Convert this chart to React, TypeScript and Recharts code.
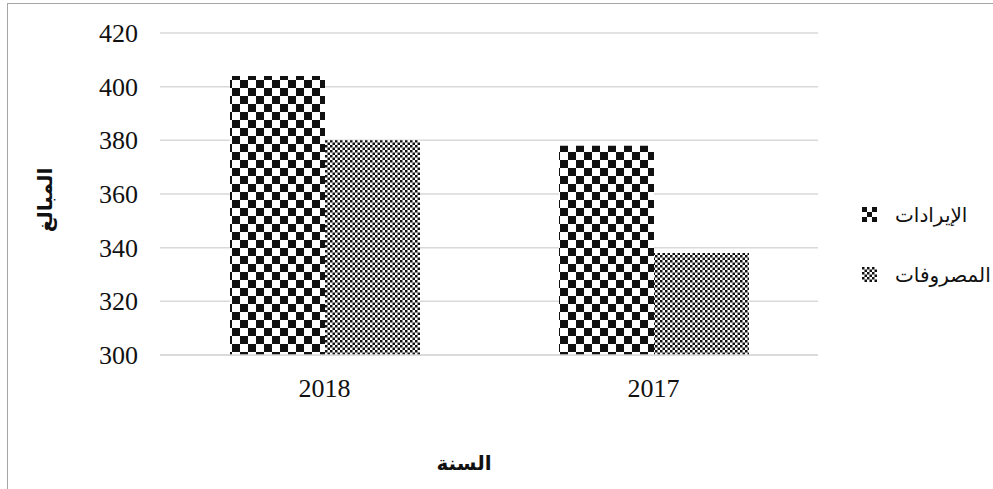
import React from "react";
import { BarChart, Bar, XAxis, YAxis, CartesianGrid, Label } from "recharts";

const years = ["2018", "2017"];
const revenues = [404, 378];
const expenses = [380, 338];
const yTicks = [300, 320, 340, 360, 380, 400, 420];
const seriesNames = { revenues: "الإيرادات", expenses: "المصروفات" };

const data = years.map((y, i) => ({ year: y, revenues: revenues[i], expenses: expenses[i] }));

const FONT = "Liberation Serif";
const AR_FONT = "'Liberation Serif', 'DejaVu Sans', serif";

const Patterns = () => (
  <svg width={0} height={0} style={{ position: "absolute" }}>
    <defs>
      <pattern id="checkBig" width={16} height={16} patternUnits="userSpaceOnUse">
        <rect x={0} y={0} width={16} height={16} fill="#fff" />
        <rect x={0} y={0} width={8} height={8} fill="#111" />
        <rect x={8} y={8} width={8} height={8} fill="#111" />
      </pattern>
      <pattern id="checkSmall" width={5} height={5} patternUnits="userSpaceOnUse">
        <rect x={0} y={0} width={5} height={5} fill="#fff" />
        <rect x={0} y={0} width={2.5} height={2.5} fill="#111" />
        <rect x={2.5} y={2.5} width={2.5} height={2.5} fill="#111" />
      </pattern>
      <pattern id="checkIcon" width={10} height={10} patternUnits="userSpaceOnUse">
        <rect x={0} y={0} width={10} height={10} fill="#fff" />
        <rect x={0} y={0} width={5} height={5} fill="#111" />
        <rect x={5} y={5} width={5} height={5} fill="#111" />
      </pattern>
    </defs>
  </svg>
);

const renderYTick = (props: any) => {
  const { x, y, payload } = props;
  return (
    <g key={`yt-${payload.value}`}>
      <text x={x} y={y} dy={9} textAnchor="end" fontFamily={FONT} fontSize={26} fill="#111" style={{ fontFamily: FONT, fontSize: 26 }}>
        {String(payload.value)}
      </text>
    </g>
  );
};

const renderXTick = (props: any) => {
  const { x, y, payload } = props;
  return (
    <g key={`xt-${payload.value}`}>
      <text x={x} y={y} dy={18} textAnchor="middle" fontFamily={FONT} fontSize={26} fill="#111" style={{ fontFamily: FONT, fontSize: 26 }}>
        {String(payload.value)}
      </text>
    </g>
  );
};

const LegendBox = () => (
  <div style={{ position: "absolute", left: 862, top: 200, fontFamily: AR_FONT, fontSize: 20, color: "#111" }}>
    {[
      { name: seriesNames.revenues, fill: "url(#checkIcon)" },
      { name: seriesNames.expenses, fill: "url(#checkSmall)" },
    ].map((it, i) => (
      <div key={i} style={{ display: "flex", alignItems: "center", height: 30, marginBottom: i === 0 ? 30 : 0 }}>
        <svg width={16} height={16} style={{ marginRight: 17 }}>
          <rect x={0} y={0} width={15} height={15} fill={it.fill} />
        </svg>
        <span style={{ direction: "rtl" }}>{it.name}</span>
      </div>
    ))}
  </div>
);

export default function App() {
  return (
    <div style={{ position: "absolute", left: 0, top: 0, width: 993, height: 489, overflow: "hidden", background: "#fff" }}>
      <Patterns />
      <div style={{ position: "absolute", left: 7, top: 3, width: 1000, height: 500, borderLeft: "1px solid #a6a6a6", borderTop: "1px solid #a6a6a6" }} />
      <div style={{ position: "absolute", left: 0, top: 0 }}>
        <BarChart
          width={993}
          height={489}
          data={data}
          margin={{ top: 33, right: 175, bottom: 100, left: 0 }}
          barCategoryGap={70}
          barGap={0}
          style={{ fontFamily: FONT }}
        >
          <CartesianGrid vertical={false} stroke="#d9d9d9" strokeWidth={1.5} />
          <XAxis
            dataKey="year"
            height={34}
            axisLine={{ stroke: "#d9d9d9", strokeWidth: 1.5 }}
            tickLine={false}
            tickSize={0}
            tickMargin={24}
            tick={renderXTick}
          >
            <Label
              content={() => (
                <text x={464} y={470} textAnchor="middle" fontFamily={AR_FONT} fontSize={20} fontWeight="bold" fill="#111">
                  السنة
                </text>
              )}
            />
          </XAxis>
          <YAxis
            width={160}
            domain={[300, 420]}
            ticks={yTicks}
            interval={0}
            axisLine={false}
            tickLine={false}
            tickSize={0}
            tickMargin={22}
            tick={renderYTick}
          >
            <Label
              content={() => (
                <text x={0} y={0} transform="translate(52,200) rotate(-90)" textAnchor="middle" fontFamily={AR_FONT} fontSize={20} fontWeight="bold" fill="#111">
                  المبالغ
                </text>
              )}
            />
          </YAxis>
          <Bar dataKey="revenues" name={seriesNames.revenues} fill="url(#checkBig)" isAnimationActive={false} />
          <Bar dataKey="expenses" name={seriesNames.expenses} fill="url(#checkSmall)" isAnimationActive={false} />
        </BarChart>
      </div>
      <LegendBox />
    </div>
  );
}
